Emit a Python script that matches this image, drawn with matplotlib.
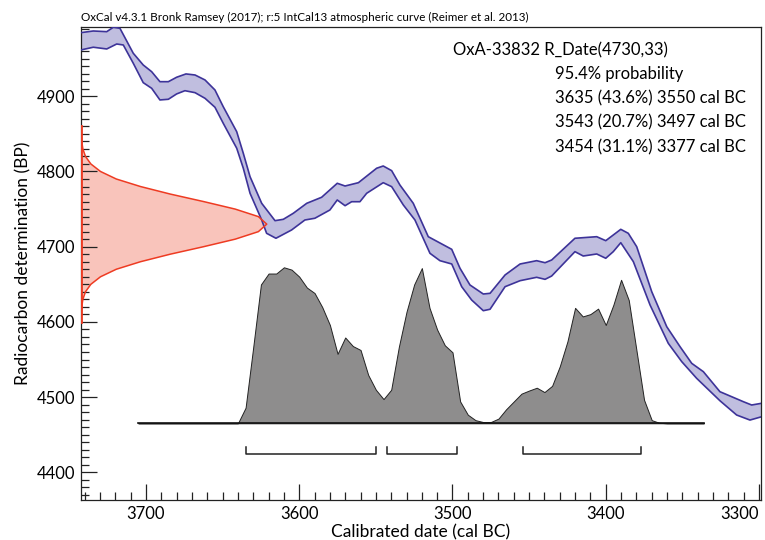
import numpy as np
import matplotlib
matplotlib.use("Agg")
import matplotlib.pyplot as plt
from matplotlib.ticker import MultipleLocator

plt.rcParams['font.family'] = ['Lato', 'DejaVu Sans']

# IntCal13 band, upper edge (cal BC, BP)
upper_yr = [3742.4, 3734.4, 3725.6, 3721.3, 3717.0, 3708.3, 3701.8, 3696.3, 3690.9, 3685.4,
            3680.0, 3673.9, 3668.0, 3661.5, 3655.0, 3649.6, 3640.8, 3636.5, 3632.1, 3624.5,
            3615.8, 3610.4, 3603.9, 3595.1, 3585.4, 3575.2, 3570.1, 3561.4, 3549.5, 3545.2,
            3539.7, 3534.3, 3525.6, 3515.8, 3500.5, 3495.1, 3488.6, 3479.9, 3475.5, 3465.7,
            3455.9, 3445.1, 3439.6, 3435.3, 3420.1, 3405.9, 3400.0, 3390.2, 3385.3, 3379.8,
            3370.0, 3360.2, 3351.5, 3343.9, 3336.3, 3325.5, 3310.2, 3304.8, 3298.3]
upper_bp = [4984.6, 4986.8, 4985.9, 4991.8, 4990.4, 4957.2, 4941.6, 4932.7, 4919.4, 4919.4,
            4925.3, 4929.7, 4928.3, 4921.7, 4908.4, 4886.2, 4852.9, 4824.2, 4793.1, 4757.7,
            4734.6, 4736.4, 4744.4, 4757.7, 4765.7, 4784.3, 4780.7, 4785.1, 4804.3, 4807.3,
            4801.1, 4782.0, 4757.7, 4713.3, 4696.5, 4671.3, 4649.1, 4637.1, 4638.0, 4662.4,
            4677.0, 4681.4, 4678.7, 4682.3, 4711.2, 4713.3, 4708.0, 4723.1, 4717.8, 4700.0,
            4640.2, 4593.6, 4567.0, 4544.9, 4533.8, 4507.2, 4493.9, 4489.5, 4491.8]

# lower edge
lower_yr = [3742.4, 3734.4, 3725.6, 3719.1, 3714.8, 3708.3, 3701.8, 3696.3, 3690.9, 3685.4,
            3680.0, 3674.6, 3668.0, 3661.5, 3655.0, 3649.6, 3640.8, 3636.5, 3632.1, 3624.5,
            3621.3, 3615.2, 3605.0, 3596.3, 3589.8, 3580.0, 3575.2, 3570.1, 3565.8, 3560.4,
            3556.0, 3545.2, 3539.7, 3532.1, 3524.5, 3514.7, 3508.2, 3500.5, 3494.0, 3487.5,
            3479.9, 3475.5, 3465.7, 3455.9, 3445.1, 3439.6, 3435.3, 3420.1, 3414.7, 3405.9,
            3400.0, 3395.1, 3390.2, 3382.0, 3371.1, 3359.2, 3350.4, 3340.7, 3325.5, 3314.6,
            3305.9, 3298.3]
lower_bp = [4961.6, 4965.2, 4962.9, 4969.5, 4968.2, 4943.9, 4918.1, 4910.6, 4895.1, 4896.0,
            4903.1, 4907.4, 4904.8, 4897.3, 4885.4, 4864.1, 4830.9, 4804.3, 4771.0, 4735.5,
            4717.8, 4711.2, 4722.2, 4735.5, 4737.8, 4748.8, 4762.1, 4754.5, 4759.8, 4759.8,
            4771.0, 4785.1, 4779.8, 4755.5, 4735.5, 4691.2, 4681.4, 4677.0, 4646.8, 4629.1,
            4614.9, 4616.8, 4646.8, 4654.8, 4659.3, 4656.6, 4661.0, 4693.4, 4687.6, 4690.3,
            4684.6, 4693.4, 4705.3, 4680.1, 4622.5, 4571.5, 4547.1, 4525.0, 4495.2, 4476.2,
            4469.5, 4473.9]

rdate_bp = [4600, 4610, 4620, 4630, 4640, 4650, 4660, 4670, 4680, 4690, 4700, 4710, 4720,
            4730, 4740, 4750, 4760, 4770, 4780, 4790, 4800, 4810, 4820, 4830, 4840, 4850, 4860]
rdate_p = [0.0, 0.001, 0.004, 0.01, 0.024, 0.053, 0.105, 0.19, 0.32, 0.48, 0.66, 0.83, 0.955,
           1.0, 0.955, 0.83, 0.66, 0.48, 0.32, 0.19, 0.105, 0.053, 0.024, 0.01, 0.004, 0.001, 0.0]

# calibrated distribution (cal BC, relative probability)
post_yr = [3705, 3645, 3640, 3635, 3630, 3625, 3620, 3615, 3610, 3605, 3600, 3595, 3590,
           3585, 3580, 3575, 3570, 3565, 3560, 3555, 3550, 3545, 3540, 3535, 3530, 3525,
           3520, 3515, 3510, 3505, 3500, 3495, 3490, 3485, 3480, 3475, 3470, 3465, 3460,
           3455, 3450, 3445, 3440, 3435, 3430, 3425, 3420, 3415, 3410, 3405, 3400, 3395,
           3390, 3385, 3380, 3375, 3370, 3365, 3360, 3336]
post_p = [0.0, 0.0, 0.0, 0.10, 0.49, 0.89, 0.96, 0.96, 1.0, 0.985, 0.94, 0.87, 0.835,
          0.745, 0.63, 0.445, 0.55, 0.495, 0.47, 0.31, 0.215, 0.155, 0.215, 0.49, 0.715, 0.89,
          0.995, 0.74, 0.60, 0.50, 0.455, 0.14, 0.055, 0.02, 0.008, 0.008, 0.03, 0.09, 0.14,
          0.19, 0.21, 0.228, 0.20, 0.24, 0.365, 0.525, 0.74, 0.685, 0.70, 0.735, 0.63, 0.76,
          0.92, 0.79, 0.47, 0.15, 0.02, 0.003, 0.0, 0.0]

# 95.4% ranges
ranges = [(3635, 3550), (3543, 3497), (3454, 3377)]
range_text = ["3635 (43.6%) 3550 cal BC", "3543 (20.7%) 3497 cal BC", "3454 (31.1%) 3377 cal BC"]

x_left, x_right = 3742.4, 3298.7
y_bot, y_top = 4363.2, 4992.5
base = 4465.2  # posterior baseline
post_h = 207.4
rdate_w = 121.2

fig = plt.figure(figsize=(7.65, 5.4), dpi=100)
ax = fig.add_axes([81/765, 40/540, 680/765, 473.3/540])

# measurement on the y axis
rx = [x_left - p*rdate_w for p in rdate_p]
ax.fill(rx, rdate_bp, facecolor='#f9c4bb', edgecolor='none', zorder=1)

# calibration curve
poly_x = np.r_[upper_yr, lower_yr[::-1]]
poly_y = np.r_[upper_bp, lower_bp[::-1]]
ax.fill(poly_x, poly_y, facecolor='#c0bedf', edgecolor='none', zorder=2)
ax.plot(upper_yr, upper_bp, color='#3d3399', lw=1.2, zorder=3)
ax.plot(lower_yr, lower_bp, color='#3d3399', lw=1.2, zorder=3)

ax.plot(rx, rdate_bp, color='#ee3b22', lw=1.1, zorder=4)
ax.plot([x_left, x_left], [rdate_bp[0], rdate_bp[-1]], color='#ee3b22', lw=2, zorder=4)

# posterior
py = [base + p*post_h for p in post_p]
ax.fill_between(post_yr, base, py, facecolor='#8e8d8d', edgecolor='#222222', lw=0.7, zorder=2)
ax.plot([post_yr[0], post_yr[-1]], [base, base], color='#111111', lw=1.2, zorder=3)

# range brackets
for a, b in ranges:
    ax.plot([a, a, b, b], [4433.5, 4424.3, 4424.3, 4433.5], color='#222222', lw=1.1, zorder=3)

ax.set_xlim(x_left, x_right)
ax.set_ylim(y_bot, y_top)
ax.set_xticks([3700, 3600, 3500, 3400, 3300])
ax.set_yticks([4400, 4500, 4600, 4700, 4800, 4900])
ax.xaxis.set_minor_locator(MultipleLocator(10))
ax.yaxis.set_minor_locator(MultipleLocator(10))
ax.tick_params(which='both', direction='in', top=False, right=False, width=0.9,
               color='#222222', labelsize=12)
ax.tick_params(which='major', length=11.5, pad=4)
ax.tick_params(which='minor', length=6)
ax.get_xticklabels()[-1].set_horizontalalignment('right')
for s in ax.spines.values():
    s.set_linewidth(0.9)
    s.set_color('#222222')

ax.set_xlabel('Calibrated date (cal BC)', fontsize=12.5, labelpad=2)
ax.set_ylabel('Radiocarbon determination (BP)', fontsize=12.5, labelpad=4)

fig.text(81/765, (540 - 20.7)/540,
         'OxCal v4.3.1 Bronk Ramsey (2017); r:5 IntCal13 atmospheric curve (Reimer et al. 2013)',
         fontsize=8.4, va='baseline', ha='left')

ax.text(0.547, 0.940, 'OxA-33832 R_Date(4730,33)', transform=ax.transAxes,
        fontsize=12, va='baseline', ha='left')
lines = ['95.4% probability'] + range_text
for i, t in enumerate(lines):
    ax.text(0.697, 0.8895 - i*0.0515, t, transform=ax.transAxes,
            fontsize=12, va='baseline', ha='left')

fig.savefig('out.png', dpi=100)
